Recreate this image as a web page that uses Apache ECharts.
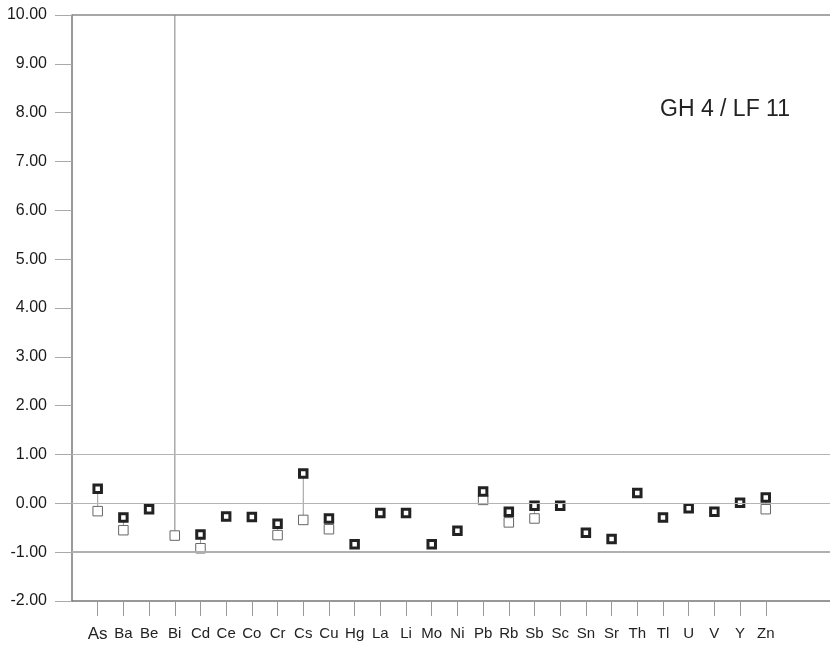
<!DOCTYPE html>
<html>
<head>
<meta charset="utf-8">
<script src="https://cdn.jsdelivr.net/npm/echarts@6/dist/echarts.min.js"></script>
<style>
  html, body { margin: 0; padding: 0; background: #fff; }
  #chart { width: 830px; height: 647px; }
</style>
</head>
<body>
<div id="chart"></div>
<script>
// Element symbols along the x axis
const elements = ['As','Ba','Be','Bi','Cd','Ce','Co','Cr','Cs','Cu','Hg','La','Li','Mo','Ni','Pb','Rb','Sb','Sc','Sn','Sr','Th','Tl','U','V','Y','Zn'];
// Bold squares (Bi lies above the plotted range)
const measured = [0.30,-0.29,-0.12,14.00,-0.64,-0.27,-0.28,-0.42,0.61,-0.31,-0.84,-0.20,-0.20,-0.84,-0.56,0.24,-0.17,-0.05,-0.05,-0.60,-0.73,0.21,-0.29,-0.10,-0.17,0.01,0.12];
// Open squares
const reference = [-0.16,-0.55,null,-0.66,-0.92,null,null,-0.65,-0.34,-0.53,null,null,null,null,null,0.07,-0.39,-0.31,null,null,null,null,null,null,null,null,-0.12];
// Horizontal reference lines
const refLines = [10, 1, 0, -1];
const yTicks = [-2,-1,0,1,2,3,4,5,6,7,8,9,10];
const chartTitle = 'GH 4 / LF 11';

const Y_MIN = -2, Y_MAX = 10;
const idx = elements.map((_, i) => i);

const pairs = [];
elements.forEach((e, i) => {
  if (reference[i] != null && measured[i] != null) pairs.push([i, measured[i], reference[i]]);
});

const chart = echarts.init(document.getElementById('chart'), null, { renderer: 'canvas' });

const refLineStyles = {
  10: { color: '#8a8a8a', width: 1.5 },
  1: { color: '#b4b4b4', width: 1 },
  0: { color: '#b4b4b4', width: 1 },
  '-1': { color: '#b0b0b0', width: 2 }
};

chart.setOption({
  animation: false,
  backgroundColor: '#fff',
  textStyle: { fontFamily: 'Liberation Sans, Arial, sans-serif' },
  grid: { left: 72, right: 0, top: 15, bottom: 46, containLabel: false },
  graphic: [{
    type: 'text',
    left: 660,
    top: 98,
    style: { text: chartTitle, fontSize: 23, fill: '#222', fontFamily: 'Liberation Sans, Arial, sans-serif' }
  }],
  xAxis: {
    type: 'value',
    min: -1,
    max: 28.5,
    axisLine: { onZero: false, lineStyle: { color: '#777', width: 1.5 } },
    axisTick: { show: true, customValues: idx, length: 15, lineStyle: { color: '#999', width: 1 } },
    axisLabel: {
      customValues: idx,
      margin: 25,
      fontSize: 15,
      color: '#222',
      formatter: v => {
        const name = elements[Math.round(v)] || '';
        return name === 'As' ? '{big|' + name + '}' : name;
      },
      rich: { big: { fontSize: 17, color: '#222' } }
    },
    splitLine: { show: false }
  },
  yAxis: {
    type: 'value',
    min: Y_MIN,
    max: Y_MAX,
    interval: 1,
    axisLine: { show: true, onZero: false, lineStyle: { color: '#777', width: 1.5 } },
    axisTick: { show: true, customValues: yTicks, length: 17, lineStyle: { color: '#aaa', width: 1 } },
    axisLabel: {
      customValues: yTicks,
      margin: 25,
      fontSize: 16,
      color: '#1a1a1a',
      formatter: v => Number(v).toFixed(2)
    },
    splitLine: { show: false }
  },
  series: [
    {
      // thin connectors between paired values
      type: 'custom',
      clip: true,
      z: 1,
      data: pairs,
      renderItem: (params, api) => {
        const i = api.value(0);
        const top = Math.min(api.value(1), Y_MAX);
        const a = api.coord([i, top]);
        const b = api.coord([i, api.value(2)]);
        const offChart = api.value(1) > Y_MAX;
        return {
          type: 'line',
          shape: { x1: a[0], y1: a[1], x2: b[0], y2: b[1] },
          style: { stroke: offChart ? '#aaa' : '#999', lineWidth: offChart ? 1.5 : 1 }
        };
      },
      markLine: {
        silent: true,
        symbol: 'none',
        label: { show: false },
        data: refLines.map(v => ({ yAxis: v, lineStyle: Object.assign({ type: 'solid' }, refLineStyles[v]) }))
      }
    },
    {
      type: 'scatter',
      z: 2,
      symbol: 'rect',
      symbolSize: 9.5,
      itemStyle: { color: '#fff', borderColor: '#666', borderWidth: 1, opacity: 1 },
      data: reference.map((v, i) => v == null ? null : [i, v])
    },
    {
      type: 'scatter',
      z: 3,
      clip: true,
      symbol: 'rect',
      symbolSize: 7.5,
      itemStyle: { color: '#fff', borderColor: '#222', borderWidth: 3, opacity: 1 },
      data: measured.map((v, i) => [i, v])
    }
  ]
});
</script>
</body>
</html>
